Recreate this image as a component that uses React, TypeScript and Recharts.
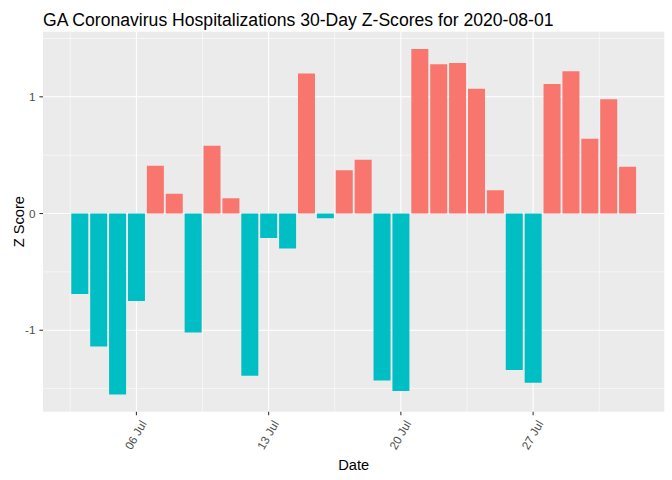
import React from 'react';
import { BarChart, Bar, XAxis, YAxis, CartesianGrid, Cell } from 'recharts';

const dates = [
  '2020-07-03', '2020-07-04', '2020-07-05', '2020-07-06', '2020-07-07', '2020-07-08',
  '2020-07-09', '2020-07-10', '2020-07-11', '2020-07-12', '2020-07-13', '2020-07-14',
  '2020-07-15', '2020-07-16', '2020-07-17', '2020-07-18', '2020-07-19', '2020-07-20',
  '2020-07-21', '2020-07-22', '2020-07-23', '2020-07-24', '2020-07-25', '2020-07-26',
  '2020-07-27', '2020-07-28', '2020-07-29', '2020-07-30', '2020-07-31', '2020-08-01',
];
const zScores = [
  -0.69, -1.14, -1.55, -0.75, 0.41, 0.17,
  -1.02, 0.58, 0.13, -1.39, -0.21, -0.30,
  1.20, -0.04, 0.37, 0.46, -1.43, -1.52,
  1.41, 1.28, 1.29, 1.07, 0.20, -1.34,
  -1.45, 1.11, 1.22, 0.64, 0.98, 0.40,
];
const xTickDates = ['2020-07-06', '2020-07-13', '2020-07-20', '2020-07-27'];
const xTickLabels = ['06 Jul', '13 Jul', '20 Jul', '27 Jul'];
const yTicks = [-1, 0, 1];
const yMinorTicks = [-1.5, -0.5, 0.5, 1.5];

const TITLE = 'GA Coronavirus Hospitalizations 30-Day Z-Scores for 2020-08-01';
const POS_COLOR = '#F8766D';
const NEG_COLOR = '#00BFC4';
const FONT = '"Liberation Sans", Arial, Helvetica, sans-serif';

const origin = Date.parse('2020-07-01T00:00:00Z');
const dayOf = (d: string) => (Date.parse(d + 'T00:00:00Z') - origin) / 86400000 + 1;

const data = dates.map((d, i) => ({ date: d, day: dayOf(d), z: zScores[i] }));
const xTickDays = xTickDates.map(dayOf);
const xMinorDays = [...xTickDays.map((d) => d - 3.5), xTickDays[xTickDays.length - 1] + 3.5];

const days = data.map((d) => d.day);
const xLo = Math.min(...days) - 0.45;
const xHi = Math.max(...days) + 0.45;
const xPad = (xHi - xLo) * 0.05;
const xDomain: [number, number] = [xLo - xPad, xHi + xPad];

const yLo = Math.min(...zScores);
const yHi = Math.max(...zScores);
const yPad = (yHi - yLo) * 0.05;
const yDomain: [number, number] = [yLo - yPad, yHi + yPad];

const labelFor = (v: number) => {
  const i = xTickDays.findIndex((t) => Math.abs(t - v) < 1e-6);
  return i >= 0 ? xTickLabels[i] : '';
};

const XTick = (props: any) => {
  const { x, y, payload } = props;
  const cx = x - 1;
  const cy = y + 17.5;
  return (
    <text
      x={cx}
      y={cy}
      transform={`rotate(-60, ${cx}, ${cy})`}
      textAnchor="middle"
      dominantBaseline="central"
      fontSize={11.7}
      fontFamily={FONT}
      fill="#4D4D4D"
    >
      {labelFor(payload.value)}
    </text>
  );
};

export default function App() {
  const W = 672;
  const H = 480;
  const margin = { top: 31.7, right: 7.7, left: 0, bottom: 0 };
  const yAxisWidth = 43;
  const xAxisHeight = 68.3;
  const plotLeft = margin.left + yAxisWidth;
  const plotRight = W - margin.right;
  const plotTop = margin.top;
  const plotBottom = H - xAxisHeight;
  return (
    <div style={{ position: 'absolute', left: 0, top: 0, width: W, height: H, background: '#fff' }}>
      <BarChart width={W} height={H} data={data} margin={margin}>
        <CartesianGrid
          fill="#EBEBEB"
          stroke="#FFFFFF"
          strokeWidth={0.55}
          horizontalValues={yMinorTicks}
          verticalValues={xMinorDays}
        />
        <CartesianGrid
          stroke="#FFFFFF"
          strokeWidth={1.07}
          horizontalValues={yTicks}
          verticalValues={xTickDays}
        />
        <XAxis
          dataKey="day"
          type="number"
          domain={xDomain}
          allowDataOverflow
          ticks={xTickDays}
          interval={0}
          height={xAxisHeight}
          axisLine={false}
          tickLine={{ stroke: '#333333', strokeWidth: 1.07 }}
          tickSize={3.6}
          tickMargin={2}
          tick={<XTick />}
        />
        <YAxis
          type="number"
          domain={yDomain}
          allowDataOverflow
          ticks={yTicks}
          interval={0}
          width={yAxisWidth}
          axisLine={false}
          tickLine={{ stroke: '#333333', strokeWidth: 1.07 }}
          tickSize={3.6}
          tickMargin={4}
          tick={{ fill: '#4D4D4D', fontSize: 11.7, fontFamily: FONT }}
        />
        <Bar dataKey="z" barSize={17} isAnimationActive={false}>
          {data.map((d, i) => (
            <Cell key={i} fill={d.z >= 0 ? POS_COLOR : NEG_COLOR} />
          ))}
        </Bar>
      </BarChart>
      <svg
        width={W}
        height={H}
        style={{ position: 'absolute', left: 0, top: 0, pointerEvents: 'none' }}
      >
        <text x={plotLeft} y={26} fontSize={17.6} fontFamily={FONT} fill="#000">
          {TITLE}
        </text>
        <text
          x={(plotLeft + plotRight) / 2}
          y={469.5}
          textAnchor="middle"
          fontSize={14.67}
          fontFamily={FONT}
          fill="#000"
        >
          Date
        </text>
        <text
          x={19}
          y={(plotTop + plotBottom) / 2}
          transform={`rotate(-90, 19, ${(plotTop + plotBottom) / 2})`}
          textAnchor="middle"
          dominantBaseline="central"
          fontSize={14.67}
          fontFamily={FONT}
          fill="#000"
        >
          Z Score
        </text>
      </svg>
    </div>
  );
}
